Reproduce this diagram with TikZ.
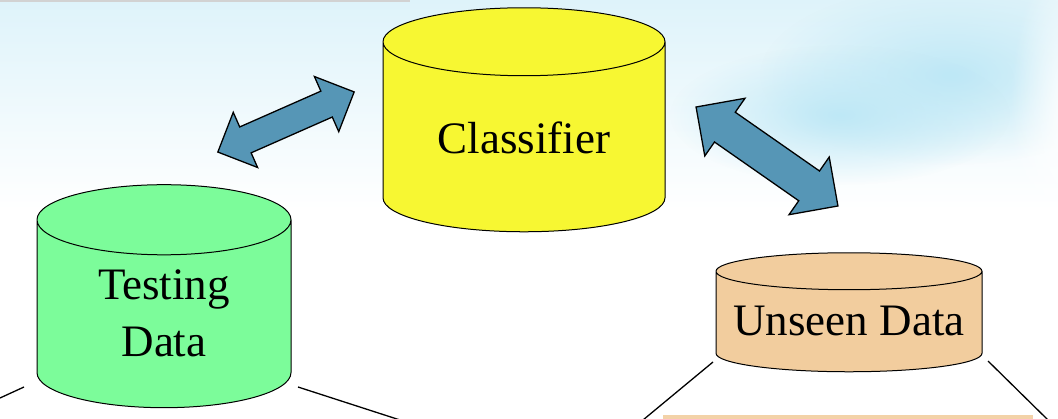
\documentclass[tikz,border=0pt]{standalone}
\usepackage{fontspec}
\setmainfont{Liberation Serif}
\usetikzlibrary{arrows, shapes, positioning, fadings}

\definecolor{sky}{RGB}{222,243,250}
\definecolor{skydeep}{RGB}{190,232,246}
\definecolor{clfyellow}{RGB}{247,247,50}
\definecolor{tstgreen}{RGB}{124,252,154}
\definecolor{unsorange}{RGB}{242,205,158}
\definecolor{arrowblue}{RGB}{86,150,182}
\tikzfading[name=soft, inner color=transparent!0, outer color=transparent!100]

\begin{document}
\begin{tikzpicture}[x=1pt, y=-1pt, thick,
                    data node/.style= {cylinder,
                      shape border rotate=90,
                      draw, line width=1pt,
                      inner ysep=0pt},
                    arrow node/.style= {double arrow,
                      draw, line width=1.3pt,
                      fill=arrowblue, inner xsep=0pt},
                    big/.style= {font=\fontsize{45}{57}\selectfont}]

  \useasboundingbox (0,0) rectangle (1058,419);
  % sky
  \shade[top color=sky, bottom color=white] (0,0) rectangle (1058,210);
  \fill[skydeep, path fading=soft] (950,75) ellipse (190 and 90);
  \fill[skydeep, path fading=soft] (840,115) ellipse (170 and 70);
  \fill[white, path fading=soft] (1070,110) ellipse (60 and 160);
  \fill[gray!35] (0,0) rectangle (410,2);

  \node[data node, fill=clfyellow, inner xsep=141pt, minimum height=224pt,
        aspect=0.241, label={[big, yshift=16pt]center:Classifier}] (1) at (524,154) {};
  \node[data node, fill=tstgreen, inner xsep=127pt, minimum height=223pt,
        aspect=0.276, label={[big, align=center, yshift=18.5pt]center:Testing\\Data}] (2) at (164,331.5) {};
  \node[data node, fill=unsorange, inner xsep=133pt, minimum height=119pt,
        aspect=0.139, label={[big, yshift=10pt]center:Unseen Data}] (3) at (849,331) {};

  \node[arrow node, minimum height=149pt, inner ysep=13.5pt,
        double arrow head extend=16pt, rotate=23.8] (4) at (286,122) {};
  \node[arrow node, minimum height=173pt, inner ysep=17.5pt,
        double arrow head extend=17pt, rotate=-34.9] (5) at (767,156.5) {};

  \coordinate (6) at (0,398);
  \coordinate (7) at (24,387);
  \coordinate (8) at (298,387);
  \coordinate (9) at (400,420);
  \coordinate (10) at (713,362);
  \coordinate (11) at (643,420);
  \coordinate (12) at (988,361);
  \coordinate (13) at (1048,420);

  \fill[unsorange!90!white] (663,415) rectangle (1033,419);
  \path[draw, line width=1.3pt]
    (6) -- (7)
    (8) -- (9)
    (10) -- (11)
    (12) -- (13);
\end{tikzpicture}
\end{document}
